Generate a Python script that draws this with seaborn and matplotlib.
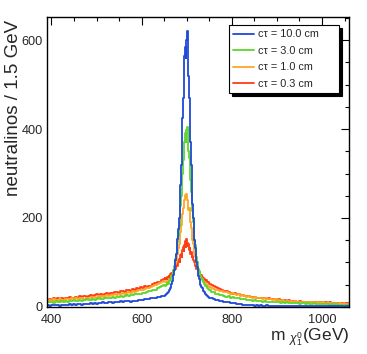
import numpy as np
import pandas as pd
import matplotlib
matplotlib.use("Agg")
import matplotlib.pyplot as plt
import seaborn as sns

# bin edges: 4.5 GeV in the tails, 1.5 GeV around the peak
edges = np.concatenate([
    np.arange(390, 651, 4.5),
    np.arange(651, 750, 1.5),
    np.arange(750, 1061, 4.5),
])

labels = ["c\u03c4 = 10.0 cm", "c\u03c4 = 3.0 cm", "c\u03c4 = 1.0 cm", "c\u03c4 = 0.3 cm"]
colors = ["#1f49d6", "#5cd72e", "#ffa526", "#ff3c14"]

# neutralinos / 1.5 GeV
blue_left = [4, 3, 5, 4, 4, 5, 3, 5, 4, 5,
             5, 6, 4, 6, 5, 7, 6, 5, 7, 6,
             7, 8, 6, 8, 7, 9, 8, 10, 8, 9,
             10, 11, 9, 12, 11, 12, 13, 11, 14, 13,
             13, 12, 14, 14, 13, 15, 16, 15, 17, 18,
             18, 19, 20, 21, 22, 22, 24, 25]
blue_core = [26, 27, 28, 30, 32, 33, 36, 39, 43, 47,
             52, 58, 64, 72, 82, 95, 106, 120, 135, 152,
             175, 200, 235, 275, 320, 370, 425, 470, 520, 565,
             585, 560, 600, 620, 575, 520, 470, 420, 370, 320,
             270, 232, 200, 170, 150, 132, 116, 102, 90, 79,
             70, 62, 55, 50, 45, 42, 38, 36, 33, 31,
             29, 27, 26, 24, 23, 22]
blue_right = [21, 19, 18, 16, 15, 13, 13, 11, 10, 10,
              9, 8, 8, 7, 6, 6, 5, 5, 4, 4,
              4, 5, 3, 4, 3, 4, 3, 3, 4, 3,
              3, 2, 3, 3, 2, 3, 2, 3, 2, 2,
              3, 2, 2, 1, 2, 2, 3, 2, 1, 2,
              2, 1, 2, 2, 1, 2, 1, 2, 1, 1,
              2, 1, 1, 2, 1, 1, 0, 1, 1]

green_left = [10, 12, 11, 9, 13, 11, 12, 14, 12, 13,
              12, 14, 13, 15, 13, 14, 16, 14, 15, 17,
              15, 16, 18, 16, 17, 19, 17, 18, 20, 19,
              21, 19, 22, 21, 23, 22, 24, 23, 25, 26,
              25, 27, 26, 28, 29, 28, 30, 32, 31, 34,
              35, 36, 38, 39, 42, 44, 46, 49]
green_core = [48, 47, 50, 49, 53, 52, 56, 58, 62, 64,
              70, 72, 80, 84, 92, 100, 108, 120, 130, 147,
              160, 182, 200, 228, 250, 282, 300, 330, 352, 372,
              390, 370, 398, 405, 378, 350, 335, 305, 285, 258,
              232, 215, 190, 172, 150, 140, 124, 112, 102, 92,
              86, 80, 72, 70, 64, 60, 57, 55, 51, 50,
              47, 46, 42, 43, 40, 38]
green_right = [37, 34, 33, 30, 29, 27, 26, 25, 23, 24,
               21, 22, 20, 19, 20, 18, 17, 18, 16, 15,
               16, 14, 15, 13, 14, 13, 12, 13, 11, 12,
               11, 12, 10, 11, 10, 9, 11, 9, 10, 9,
               8, 9, 9, 8, 7, 9, 8, 7, 8, 7,
               7, 8, 6, 7, 7, 6, 7, 6, 6, 5,
               6, 5, 6, 5, 5, 4, 5, 5, 4]

orange_left = [14, 16, 13, 17, 15, 14, 18, 16, 15, 17,
               18, 16, 19, 17, 20, 18, 19, 21, 18, 20,
               21, 19, 22, 23, 21, 24, 22, 25, 23, 26,
               25, 27, 26, 28, 27, 30, 29, 31, 30, 32,
               33, 31, 35, 34, 36, 38, 37, 39, 41, 42,
               43, 45, 47, 49, 51, 53, 56, 58]
orange_core = [58, 55, 57, 54, 58, 59, 60, 63, 62, 66,
               69, 72, 76, 80, 85, 90, 97, 104, 112, 120,
               132, 141, 158, 168, 185, 195, 210, 222, 235, 240,
               252, 245, 255, 240, 232, 218, 222, 200, 190, 178,
               168, 150, 142, 130, 118, 112, 104, 96, 90, 85,
               80, 76, 71, 69, 65, 63, 60, 59, 56, 55,
               52, 51, 49, 48, 46, 45]
orange_right = [44, 42, 40, 39, 37, 36, 35, 33, 33, 31,
                30, 31, 28, 27, 28, 25, 26, 24, 23, 24,
                22, 21, 22, 20, 19, 20, 18, 19, 17, 18,
                17, 16, 17, 15, 16, 14, 15, 14, 13, 14,
                13, 12, 13, 12, 11, 12, 11, 10, 11, 10,
                10, 11, 9, 10, 9, 10, 8, 9, 8, 9,
                8, 7, 8, 7, 8, 7, 6, 7, 7]

red_left = [16, 18, 15, 19, 17, 20, 16, 19, 18, 21,
            19, 22, 20, 21, 23, 20, 24, 22, 25, 23,
            24, 27, 25, 26, 28, 26, 29, 27, 30, 31,
            29, 32, 31, 33, 34, 32, 35, 36, 34, 37,
            38, 36, 40, 39, 42, 41, 44, 43, 46, 45,
            48, 47, 51, 53, 55, 57, 60, 63]
red_core = [64, 62, 66, 63, 68, 66, 70, 68, 73, 71,
            76, 74, 80, 78, 84, 88, 85, 93, 96, 92,
            104, 108, 102, 116, 120, 112, 128, 135, 126, 140,
            148, 135, 152, 144, 138, 142, 128, 132, 120, 124,
            112, 115, 105, 100, 102, 92, 94, 86, 88, 80,
            82, 76, 74, 71, 72, 67, 68, 64, 62, 63,
            59, 60, 57, 56, 55, 53]
red_right = [52, 49, 47, 44, 42, 40, 38, 36, 35, 33,
             32, 30, 31, 28, 29, 26, 27, 25, 24, 25,
             23, 22, 23, 21, 20, 21, 19, 20, 18, 19,
             18, 17, 18, 16, 17, 15, 16, 15, 14, 15,
             14, 13, 14, 12, 13, 12, 12, 11, 12, 11,
             11, 12, 10, 11, 10, 11, 9, 10, 9, 10,
             9, 8, 9, 8, 9, 8, 7, 8, 8]

series = [
    blue_left + blue_core + blue_right,
    green_left + green_core + green_right,
    orange_left + orange_core + orange_right,
    red_left + red_core + red_right,
]

centers = (edges[:-1] + edges[1:]) / 2
df = pd.concat([
    pd.DataFrame({"mass": centers, "count": vals, "ctau": lab})
    for lab, vals in zip(labels, series)
], ignore_index=True)

sns.set_style("white")
plt.rcParams["font.family"] = ["Liberation Sans", "DejaVu Sans"]
plt.rcParams["mathtext.fontset"] = "custom"
plt.rcParams["mathtext.rm"] = "Liberation Sans"
plt.rcParams["mathtext.it"] = "Liberation Sans:italic"

fig = plt.figure(figsize=(3.67, 3.54), dpi=100)
ax = fig.add_axes([0.128, 0.133, 0.823, 0.819])

sns.histplot(
    data=df, x="mass", weights="count", hue="ctau",
    hue_order=labels, palette=colors, bins=list(edges),
    element="step", fill=False, linewidth=1.3,
    legend=False, ax=ax,
)

ax.set_xlim(390, 1060)
ax.set_ylim(0, 652)
ax.set_xticks([400, 600, 800, 1000])
ax.set_yticks([0, 200, 400, 600])
ax.set_xticks(np.arange(400, 1060, 50), minor=True)
ax.set_yticks(np.arange(0, 652, 50), minor=True)
ax.tick_params(which="both", direction="in", top=True, right=True,
               labelsize=9.2, width=0.8, color="black")
ax.tick_params(axis="y", pad=3)
ax.tick_params(axis="x", pad=5)
ax.tick_params(which="major", length=6)
ax.tick_params(which="minor", length=3)
for s in ax.spines.values():
    s.set_color("black")
    s.set_linewidth(1.0)

ax.set_xlabel(r"m $_{\chi^{0}_{1}}$(GeV)", loc="right", fontsize=12.5, labelpad=0)
ax.set_ylabel("neutralinos / 1.5 GeV", fontsize=13.5)
ax.yaxis.set_label_coords(-0.084, 0.688)

handles = [plt.Line2D([], [], color=c, lw=1.3) for c in colors]
leg = fig.legend(
    handles, labels, loc="upper left",
    bbox_to_anchor=(229 / 367, 1 - 96 / 354, 110 / 367, 71 / 354),
    bbox_transform=fig.transFigure, mode="expand",
    fontsize=7.8, frameon=True, fancybox=False, edgecolor="black",
    framealpha=1, borderaxespad=0, handlelength=1.9, handletextpad=0.35,
    labelspacing=0.6, borderpad=0.4,
    shadow={"color": "black", "alpha": 1},
)
leg.get_frame().set_linewidth(0.8)

fig.savefig("out.png", dpi=100)
